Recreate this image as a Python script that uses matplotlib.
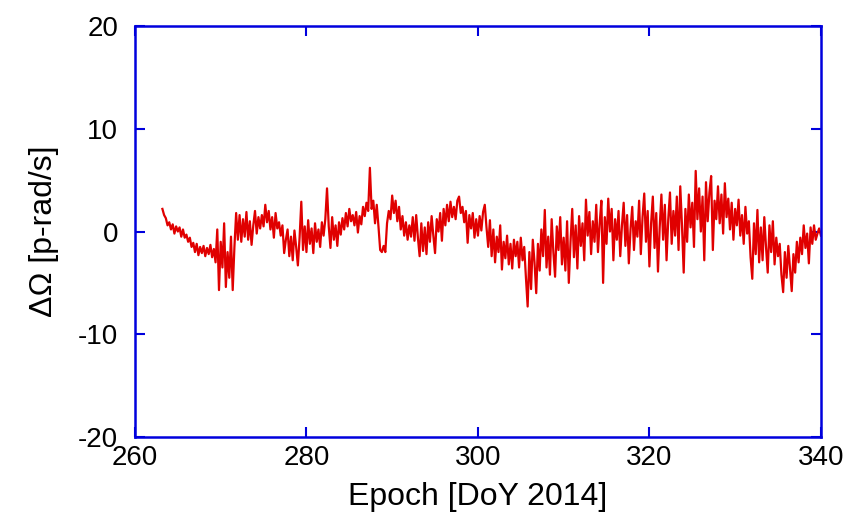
import matplotlib
matplotlib.use("Agg")
import matplotlib.pyplot as plt
import numpy as np

# epochs: one sample every 0.2 day from DoY 263.2 to 340.0
epoch = np.round(np.arange(263.2, 340.0001, 0.2), 1)

# delta Omega [p-rad/s] in 5-day chunks
d263 = [2.2, 1.6, 1.3, 0.6, 0.9, 0.2, 0.7, -0.2, 0.5, 0.0, 0.4, -0.5, 0.2,
        -0.6, -0.3, -1.0, -0.6, -1.5, -1.1, -2.0, -1.2, -2.3, -1.5, -2.1, -1.4]
d268 = [-2.4, -1.6, -2.2, -1.3, -2.5, -1.7, -3.0, 0.2, -5.7, -1.0, -3.5, 0.8, -5.4,
        -2.0, -4.5, -0.5, -5.7, -1.5, 1.8, -0.8, 1.6, -1.0, 1.2, -0.5, 1.9]
d273 = [-0.8, 1.0, -1.3, 0.6, 2.0, -0.2, 1.4, 0.3, 1.6, 0.5, 2.6, 0.9, 2.0,
        0.2, 1.4, -0.6, 1.8, 0.3, 0.9, -0.4, 0.6, -2.1, -0.8, 0.2, -2.4]
d278 = [-0.5, -2.8, 0.1, -1.5, -3.3, -0.6, 2.9, -1.8, 0.5, -2.0, 1.1, -1.2, 0.3,
        -2.1, 0.8, -1.0, 0.2, -1.5, 0.9, -0.4, 1.2, 4.2, 0.5, -1.6, 1.4]
d283 = [-0.8, 0.6, -1.4, 0.9, -0.3, 1.3, 0.2, 1.8, 0.5, 2.2, 1.0, 1.6, 0.6,
        1.9, -0.1, 1.5, 0.7, 2.4, 1.5, 2.8, 2.0, 6.2, 2.2, 3.0, 0.8]
d288 = [2.6, 0.5, -1.8, -2.0, -1.4, -2.0, 0.8, 2.0, 1.2, 3.5, 1.8, 3.0, 1.0,
        2.4, 0.2, 1.5, -0.4, 0.9, -0.8, 0.6, -0.5, 1.4, -0.9, 1.6, -0.6]
d293 = [-2.4, 0.8, -1.9, 0.4, -2.2, 0.9, -1.0, 1.5, -0.4, -2.1, 1.2, 0.0, 1.8,
        -0.9, 2.2, 0.6, 2.6, 1.0, 2.9, 1.4, 2.4, 1.2, 3.0, 3.4, 1.8]
d298 = [2.4, 0.9, 2.0, -1.1, 1.6, 0.3, 1.8, -0.6, 1.2, -0.4, 1.5, 0.1, 1.9,
        2.6, 0.4, -1.5, 1.1, -2.4, 0.2, -3.0, -0.5, -2.0, 0.6, -3.7, -1.0]
d303 = [-2.6, -0.4, -3.2, -1.2, -3.6, -0.8, -2.4, -1.0, -3.5, -0.6, -2.8, -1.5, -4.5,
        -7.3, -2.0, -5.6, -0.8, -3.0, -6.0, -1.2, -3.8, 0.2, -2.4, 2.1, -3.5]
d308 = [-0.5, -4.2, 1.2, -2.0, -4.4, 0.5, -1.8, 1.4, -3.2, -0.6, -3.8, 1.0, -5.0,
        -1.0, 2.2, -2.5, 0.6, -3.6, 1.5, -1.4, 0.8, -2.8, 3.1, -0.4, 1.9]
d313 = [-2.2, 1.0, -1.0, 2.6, -2.0, 0.8, 3.0, -5.0, 1.4, -1.2, 3.2, 0.0, 2.2,
        -2.8, 1.2, -0.8, 2.0, -2.4, 0.6, 2.8, -1.4, 1.6, -3.1, 0.2, 2.4]
d318 = [-1.8, 1.0, -0.5, 3.0, -2.2, 1.4, 3.7, -1.0, 2.0, -3.4, 0.8, 3.4, -1.6,
        1.8, -3.9, 0.4, 3.6, -0.8, 2.6, -2.8, 1.2, 3.8, -1.2, 2.0, -0.4]
d323 = [3.4, -1.8, 4.4, 0.6, -4.0, 2.2, -1.0, 3.6, 0.4, 2.8, -1.5, 5.9, 1.2,
        4.2, 0.0, 3.4, -2.8, 4.8, 1.0, 3.8, 5.4, -1.8, 3.0, 1.2, 4.4]
d328 = [0.8, 3.6, -0.2, 4.7, 1.4, 3.2, 0.2, 2.8, -0.8, 2.2, 0.6, 3.1, -0.4,
        1.6, -1.2, 2.4, -0.2, 1.0, -2.5, -4.6, 0.8, -2.2, 2.1, -3.0, 0.4]
d333 = [-2.8, 1.4, -1.5, -4.0, 0.6, -2.0, 1.0, -3.2, -0.6, -2.4, -1.2, -4.2, -5.9,
        -2.0, -4.5, -1.4, -3.6, -5.8, -2.2, -4.0, -1.0, -3.0, -0.6, -2.2, 0.6]
d338 = [-1.6, -0.2, -3.1, 0.4, -1.2, 0.6, -0.8, -0.2, 0.3, -0.4]

d_omega = (d263 + d268 + d273 + d278 + d283 + d288 + d293 + d298 +
           d303 + d308 + d313 + d318 + d323 + d328 + d333 + d338)

frame_blue = "#0000dd"
plt.rcParams['font.family'] = ['Liberation Sans', 'DejaVu Sans']
plt.rcParams['axes.unicode_minus'] = False

fig = plt.figure(figsize=(8.51, 5.13), dpi=100)
ax = fig.add_axes([0.1586, 0.1481, 0.806, 0.8012])

ax.plot(epoch, d_omega, color="#e00000", linewidth=1.6)

ax.set_xlim(260, 340)
ax.set_ylim(-20, 20)
ax.set_xticks([260, 280, 300, 320, 340])
ax.set_yticks([-20, -10, 0, 10, 20])
ax.tick_params(direction="in", length=7, width=1.5, color=frame_blue,
               top=True, right=True, labelsize=20)
ax.tick_params(axis="x", pad=6)
ax.tick_params(axis="y", pad=12)
for s in ax.spines.values():
    s.set_color(frame_blue)
    s.set_linewidth(1.8)

ax.set_xlabel("Epoch [DoY 2014]", fontsize=23, labelpad=8)
ax.set_ylabel("ΔΩ [p-rad/s]", fontsize=23, labelpad=14)

fig.savefig("out.png", dpi=100)
